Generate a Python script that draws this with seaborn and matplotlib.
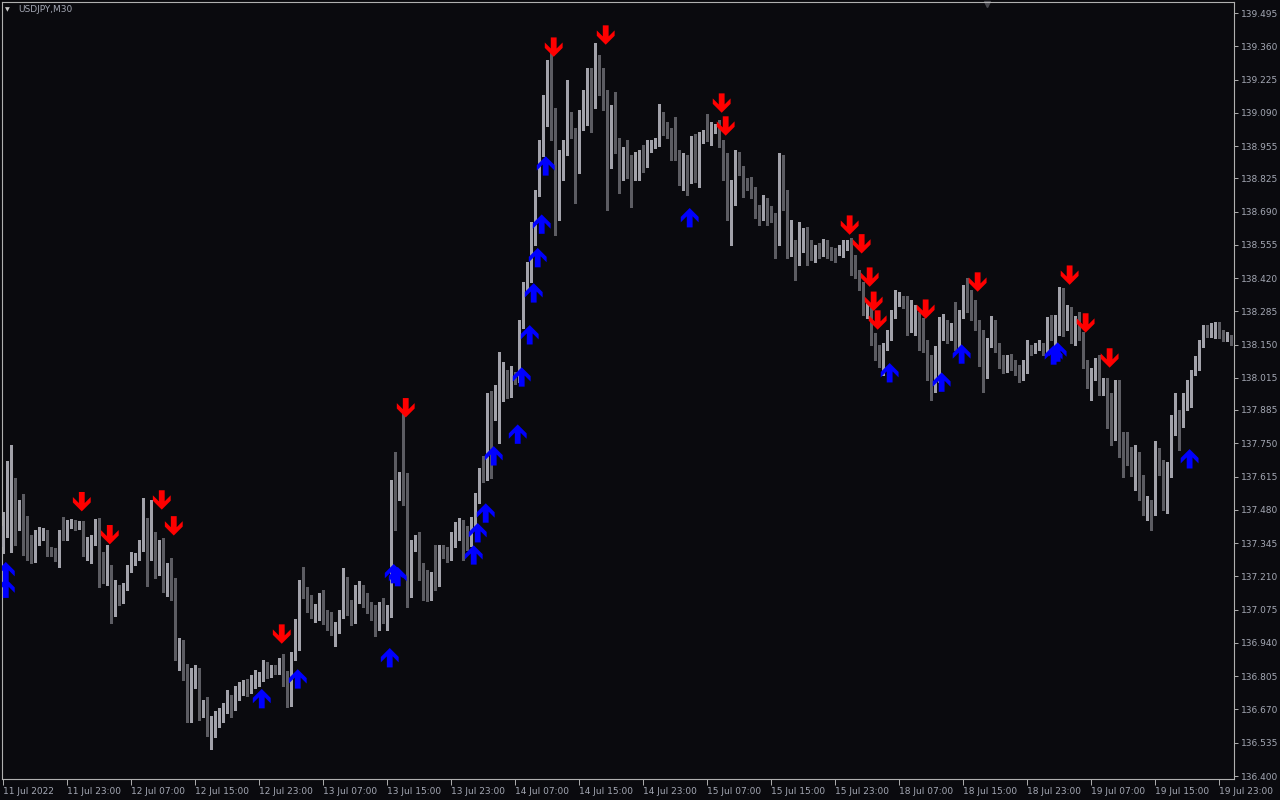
import numpy as np
import matplotlib
matplotlib.use("Agg")
import matplotlib.pyplot as plt
from matplotlib.path import Path
import seaborn as sns

# ---- USDJPY M30 candles (bar 0 = 11 Jul 15:00) ----
opens = [
    137.329, 137.411, 137.585, 137.593, 137.427, 137.479, 137.443, 137.333, 137.281, 137.367,
    137.383, 137.391, 137.313, 137.313, 137.285, 137.383, 137.371, 137.415, 137.419, 137.411,
    137.423, 137.297, 137.333, 137.357, 137.411, 137.301, 137.217, 137.245, 137.062, 137.158,
    137.126, 137.166, 137.237, 137.281, 137.289, 137.325, 137.435, 137.289, 137.371, 137.225,
    137.337, 137.162, 137.209, 137.142, 136.888, 136.904, 136.842, 136.628, 136.770, 136.798,
    136.656, 136.672, 136.576, 136.596, 136.636, 136.640, 136.668, 136.718, 136.676, 136.730,
    136.746, 136.766, 136.750, 136.782, 136.798, 136.798, 136.858, 136.818, 136.838, 136.826,
    136.846, 136.778, 136.726, 136.884, 136.920, 137.174, 137.134, 137.106, 137.070, 137.070,
    137.118, 137.054, 137.042, 136.976, 137.004, 137.050, 137.194, 137.102, 137.028, 137.122,
    137.150, 137.102, 137.082, 137.050, 137.004, 137.074, 137.038, 137.054, 137.581, 137.549,
    137.613, 137.557, 137.138, 137.333, 137.341, 137.221, 137.217, 137.130, 137.209, 137.178,
    137.317, 137.305, 137.301, 137.355, 137.383, 137.407, 137.399, 137.345, 137.427, 137.525,
    137.625, 137.613, 137.910, 137.857, 137.906, 137.934, 138.011, 137.950, 138.015, 138.007,
    138.230, 138.376, 138.416, 138.587, 138.765, 138.923, 139.097, 139.248, 139.069, 138.765,
    138.843, 138.935, 139.057, 139.009, 138.863, 139.065, 139.134, 139.224, 139.126, 139.292,
    139.240, 139.118, 138.923, 139.077, 138.939, 138.831, 138.943, 138.847, 138.839, 138.871,
    138.899, 138.887, 138.947, 138.959, 138.971, 139.069, 139.033, 139.009, 138.971, 138.915,
    138.851, 138.879, 138.847, 138.979, 138.895, 138.983, 139.005, 138.979, 139.020, 139.025,
    138.959, 138.887, 138.669, 138.725, 138.911, 138.863, 138.809, 138.803, 138.777, 138.697,
    138.685, 138.733, 138.685, 138.677, 138.567, 138.789, 138.761, 138.523, 138.555, 138.482,
    138.547, 138.607, 138.547, 138.511, 138.531, 138.523, 138.559, 138.531, 138.527, 138.523,
    138.523, 138.547, 138.563, 138.460, 138.440, 138.392, 138.282, 138.290, 138.174, 138.112,
    138.092, 138.140, 138.182, 138.266, 138.318, 138.326, 138.336, 138.214, 138.282, 138.258,
    138.214, 138.136, 138.084, 137.962, 138.100, 138.202, 138.218, 138.198, 138.206, 138.148,
    138.270, 138.380, 138.294, 138.266, 138.238, 138.084, 138.028, 138.152, 138.234, 138.136,
    138.068, 138.056, 138.076, 138.076, 138.044, 138.020, 138.060, 138.136, 138.124, 138.140,
    138.144, 138.136, 138.242, 138.198, 138.246, 138.376, 138.234, 138.274, 138.170, 138.246,
    138.190, 138.068, 137.990, 138.016, 138.084, 137.978, 137.994, 137.946, 137.795, 137.990,
    137.735, 137.723, 137.715, 137.665, 137.693, 137.581, 137.471, 137.483, 137.467, 137.715,
    137.641, 137.517, 137.645, 137.843, 137.865, 137.831, 137.930, 137.934, 138.036, 138.056,
    138.148, 138.206, 138.190, 138.218, 138.222, 138.194, 138.178, 138.178,
]
highs = [
    137.471, 137.677, 137.743, 137.609, 137.520, 137.545, 137.455, 137.379, 137.399, 137.411,
    137.407, 137.399, 137.329, 137.325, 137.399, 137.451, 137.439, 137.443, 137.439, 137.435,
    137.435, 137.371, 137.379, 137.443, 137.447, 137.309, 137.337, 137.257, 137.194, 137.174,
    137.182, 137.257, 137.309, 137.305, 137.357, 137.529, 137.447, 137.520, 137.391, 137.357,
    137.367, 137.265, 137.285, 137.205, 136.960, 136.952, 136.854, 136.838, 136.850, 136.838,
    136.708, 136.722, 136.644, 136.664, 136.676, 136.696, 136.750, 136.730, 136.766, 136.782,
    136.790, 136.794, 136.810, 136.830, 136.822, 136.870, 136.862, 136.850, 136.850, 136.880,
    136.896, 136.826, 136.904, 137.038, 137.194, 137.249, 137.166, 137.134, 137.098, 137.142,
    137.154, 137.074, 137.066, 137.024, 137.074, 137.245, 137.209, 137.114, 137.174, 137.190,
    137.174, 137.142, 137.106, 137.094, 137.106, 137.122, 137.094, 137.601, 137.715, 137.633,
    137.874, 137.629, 137.357, 137.379, 137.391, 137.265, 137.237, 137.229, 137.337, 137.337,
    137.337, 137.329, 137.391, 137.431, 137.447, 137.439, 137.415, 137.451, 137.549, 137.649,
    137.699, 137.954, 137.962, 137.986, 138.120, 138.080, 138.048, 138.064, 138.040, 138.250,
    138.404, 138.484, 138.647, 138.777, 138.979, 139.164, 139.304, 139.333, 139.109, 138.939,
    138.979, 139.224, 139.093, 139.029, 139.101, 139.184, 139.272, 139.272, 139.373, 139.325,
    139.272, 139.184, 139.122, 139.176, 138.987, 138.951, 138.979, 138.919, 138.931, 138.939,
    138.959, 138.979, 138.979, 138.987, 139.126, 139.093, 139.053, 139.029, 139.073, 138.939,
    138.927, 138.919, 138.995, 139.005, 139.013, 139.020, 139.085, 139.053, 139.045, 139.061,
    138.979, 138.927, 138.819, 138.939, 138.931, 138.875, 138.827, 138.831, 138.789, 138.717,
    138.757, 138.745, 138.713, 138.685, 138.927, 138.919, 138.777, 138.657, 138.575, 138.647,
    138.623, 138.627, 138.575, 138.555, 138.563, 138.579, 138.575, 138.547, 138.543, 138.555,
    138.575, 138.575, 138.583, 138.515, 138.452, 138.404, 138.318, 138.310, 138.198, 138.148,
    138.156, 138.210, 138.290, 138.372, 138.364, 138.348, 138.348, 138.330, 138.310, 138.282,
    138.258, 138.170, 138.108, 138.144, 138.262, 138.274, 138.250, 138.238, 138.322, 138.290,
    138.392, 138.420, 138.372, 138.330, 138.250, 138.210, 138.178, 138.266, 138.250, 138.156,
    138.108, 138.108, 138.112, 138.088, 138.068, 138.088, 138.170, 138.148, 138.156, 138.170,
    138.156, 138.262, 138.270, 138.270, 138.384, 138.380, 138.310, 138.302, 138.266, 138.282,
    138.202, 138.088, 138.056, 138.096, 138.108, 138.016, 138.016, 137.954, 138.007, 138.007,
    137.795, 137.795, 137.735, 137.743, 137.715, 137.621, 137.537, 137.520, 137.759, 137.731,
    137.683, 137.673, 137.865, 137.954, 137.886, 137.954, 138.007, 138.048, 138.104, 138.170,
    138.230, 138.230, 138.238, 138.242, 138.242, 138.210, 138.202, 138.190,
]
lows = [
    137.305, 137.371, 137.309, 137.337, 137.399, 137.297, 137.277, 137.265, 137.269, 137.337,
    137.357, 137.293, 137.293, 137.273, 137.249, 137.357, 137.357, 137.407, 137.399, 137.403,
    137.293, 137.277, 137.265, 137.337, 137.166, 137.182, 137.174, 137.020, 137.050, 137.094,
    137.102, 137.154, 137.229, 137.257, 137.277, 137.313, 137.170, 137.277, 137.205, 137.217,
    137.146, 137.130, 137.114, 136.870, 136.830, 136.790, 136.620, 136.620, 136.758, 136.628,
    136.640, 136.564, 136.510, 136.560, 136.600, 136.620, 136.656, 136.640, 136.668, 136.710,
    136.730, 136.726, 136.738, 136.758, 136.766, 136.786, 136.798, 136.802, 136.814, 136.814,
    136.766, 136.680, 136.684, 136.870, 136.912, 137.122, 137.066, 137.042, 137.024, 137.034,
    137.016, 136.992, 136.972, 136.928, 136.980, 137.042, 137.054, 137.012, 137.020, 137.102,
    137.086, 137.062, 137.034, 136.968, 136.992, 137.020, 136.992, 137.046, 137.399, 137.520,
    137.499, 137.086, 137.126, 137.313, 137.194, 137.114, 137.110, 137.114, 137.154, 137.170,
    137.285, 137.269, 137.277, 137.329, 137.357, 137.277, 137.317, 137.333, 137.415, 137.507,
    137.593, 137.601, 137.609, 137.845, 137.751, 137.922, 137.934, 137.938, 137.990, 137.998,
    138.218, 138.364, 138.404, 138.555, 138.753, 138.915, 139.037, 138.979, 138.595, 138.657,
    138.819, 138.919, 138.989, 138.725, 138.847, 139.020, 139.041, 139.012, 139.109, 139.164,
    139.101, 138.697, 138.867, 138.927, 138.765, 138.819, 138.827, 138.709, 138.819, 138.819,
    138.851, 138.871, 138.931, 138.947, 138.955, 139.001, 138.989, 138.899, 138.899, 138.797,
    138.777, 138.757, 138.805, 138.809, 138.789, 138.967, 138.975, 138.959, 139.009, 138.951,
    138.819, 138.657, 138.555, 138.717, 138.839, 138.749, 138.777, 138.745, 138.665, 138.635,
    138.657, 138.635, 138.647, 138.503, 138.555, 138.697, 138.503, 138.511, 138.412, 138.474,
    138.527, 138.474, 138.495, 138.486, 138.503, 138.511, 138.503, 138.495, 138.486, 138.515,
    138.507, 138.535, 138.432, 138.420, 138.372, 138.270, 138.258, 138.148, 138.088, 138.060,
    138.028, 138.128, 138.170, 138.258, 138.306, 138.298, 138.190, 138.202, 138.190, 138.128,
    138.120, 138.008, 137.926, 137.958, 137.998, 138.170, 138.156, 138.170, 138.128, 138.128,
    138.258, 138.282, 138.250, 138.210, 138.064, 137.958, 138.016, 138.140, 138.120, 138.056,
    138.036, 138.040, 138.048, 138.028, 137.998, 138.008, 138.036, 138.108, 138.116, 138.128,
    138.108, 138.120, 138.170, 138.148, 138.190, 138.186, 138.210, 138.156, 138.148, 138.170,
    138.056, 137.974, 137.926, 138.008, 137.946, 137.946, 137.811, 137.743, 137.763, 137.695,
    137.613, 137.661, 137.617, 137.561, 137.520, 137.459, 137.439, 137.399, 137.459, 137.621,
    137.479, 137.467, 137.613, 137.783, 137.723, 137.815, 137.886, 137.898, 138.028, 138.048,
    138.140, 138.182, 138.182, 138.178, 138.178, 138.166, 138.166, 138.148,
]
closes = [
    137.415, 137.585, 137.589, 137.431, 137.475, 137.439, 137.329, 137.285, 137.367, 137.395,
    137.395, 137.305, 137.305, 137.285, 137.387, 137.371, 137.415, 137.427, 137.411, 137.415,
    137.297, 137.337, 137.363, 137.411, 137.297, 137.217, 137.245, 137.062, 137.162, 137.126,
    137.166, 137.237, 137.281, 137.289, 137.325, 137.435, 137.293, 137.375, 137.225, 137.337,
    137.162, 137.209, 137.134, 136.888, 136.908, 136.838, 136.624, 136.774, 136.798, 136.656,
    136.668, 136.576, 136.596, 136.640, 136.644, 136.668, 136.718, 136.676, 136.730, 136.746,
    136.770, 136.746, 136.782, 136.798, 136.802, 136.858, 136.810, 136.838, 136.826, 136.846,
    136.778, 136.726, 136.888, 136.924, 137.174, 137.134, 137.102, 137.066, 137.074, 137.118,
    137.050, 137.038, 137.000, 137.004, 137.050, 137.194, 137.102, 137.028, 137.126, 137.154,
    137.102, 137.082, 137.046, 137.008, 137.078, 137.038, 137.058, 137.577, 137.549, 137.609,
    137.557, 137.142, 137.333, 137.341, 137.217, 137.213, 137.134, 137.209, 137.178, 137.321,
    137.301, 137.297, 137.363, 137.391, 137.411, 137.395, 137.345, 137.427, 137.525, 137.629,
    137.613, 137.914, 137.857, 137.894, 137.938, 138.011, 137.946, 138.011, 138.002, 138.234,
    138.380, 138.416, 138.591, 138.765, 138.923, 139.097, 139.244, 139.069, 138.765, 138.843,
    138.935, 139.061, 139.009, 138.863, 139.069, 139.134, 139.224, 139.130, 139.292, 139.236,
    139.118, 138.927, 139.077, 138.939, 138.831, 138.943, 138.843, 138.839, 138.875, 138.903,
    138.887, 138.955, 138.963, 138.975, 139.065, 139.033, 139.001, 138.967, 138.915, 138.851,
    138.883, 138.851, 138.975, 138.899, 138.987, 138.995, 138.983, 139.029, 139.029, 138.959,
    138.883, 138.669, 138.729, 138.911, 138.859, 138.803, 138.799, 138.773, 138.681, 138.685,
    138.737, 138.681, 138.673, 138.575, 138.789, 138.761, 138.523, 138.559, 138.482, 138.551,
    138.607, 138.551, 138.511, 138.535, 138.523, 138.563, 138.523, 138.523, 138.519, 138.531,
    138.563, 138.563, 138.460, 138.440, 138.392, 138.286, 138.294, 138.170, 138.104, 138.092,
    138.140, 138.186, 138.270, 138.326, 138.336, 138.314, 138.210, 138.286, 138.290, 138.210,
    138.136, 138.080, 137.962, 138.104, 138.202, 138.218, 138.198, 138.210, 138.152, 138.274,
    138.380, 138.290, 138.262, 138.238, 138.076, 138.028, 138.156, 138.238, 138.132, 138.064,
    138.056, 138.076, 138.068, 138.040, 138.020, 138.064, 138.136, 138.124, 138.144, 138.148,
    138.124, 138.242, 138.202, 138.250, 138.376, 138.234, 138.270, 138.166, 138.246, 138.190,
    138.064, 137.990, 138.020, 138.084, 137.978, 137.994, 137.942, 137.795, 137.990, 137.735,
    137.715, 137.715, 137.665, 137.689, 137.581, 137.467, 137.487, 137.467, 137.715, 137.637,
    137.513, 137.649, 137.843, 137.869, 137.831, 137.930, 137.934, 138.036, 138.060, 138.152,
    138.206, 138.190, 138.222, 138.222, 138.190, 138.178, 138.186, 138.156,
]

# ---- indicator arrows (bar index, price at arrow centre) ----
sell_bars = [19, 26, 39, 42, 69, 100, 137, 150, 179, 180, 211, 214, 216, 217, 218,
             230, 243, 266, 270, 276]
sell_prices = [137.513, 137.379, 137.520, 137.415, 136.976, 137.894, 139.357, 139.406,
               139.130, 139.037, 138.635, 138.559, 138.424, 138.326, 138.250, 138.294,
               138.404, 138.432, 138.238, 138.096]
buy_bars = [0, 0, 64, 73, 96, 97, 98, 117, 118, 120, 122, 128, 129, 131, 132, 133, 134,
            135, 171, 221, 234, 239, 262, 263, 296]
buy_prices = [137.229, 137.162, 136.714, 136.794, 136.880, 137.221, 137.209, 137.297,
              137.387, 137.467, 137.699, 137.787, 138.019, 138.190, 138.360, 138.503,
              138.639, 138.875, 138.665, 138.036, 137.998, 138.112, 138.108, 138.120,
              137.687]

# ---- axis labels ----
price_labels = ["139.495", "139.360", "139.225", "139.090", "138.955", "138.825",
                "138.690", "138.555", "138.420", "138.285", "138.150", "138.015",
                "137.885", "137.750", "137.615", "137.480", "137.345", "137.210",
                "137.075", "136.940", "136.805", "136.670", "136.535", "136.400"]
time_labels = ["11 Jul 2022", "11 Jul 23:00", "12 Jul 07:00", "12 Jul 15:00",
               "12 Jul 23:00", "13 Jul 07:00", "13 Jul 15:00", "13 Jul 23:00",
               "14 Jul 07:00", "14 Jul 15:00", "14 Jul 23:00", "15 Jul 07:00",
               "15 Jul 15:00", "15 Jul 23:00", "18 Jul 07:00", "18 Jul 15:00",
               "18 Jul 23:00", "19 Jul 07:00", "19 Jul 15:00", "19 Jul 23:00"]
label_every = 16  # one time label every 16 bars (8 hours)

BG = "#0a0a0e"
FG = "#a4a8b4"
BULL = "#a2a2aa"
BEAR = "#5c5c62"

sns.set_theme(style="dark", rc={"axes.facecolor": BG, "figure.facecolor": BG,
                                "axes.edgecolor": "#b0b0b0", "axes.grid": False})
plt.rcParams["font.family"] = ["DejaVu Sans"]

fig = plt.figure(figsize=(12.8, 8), dpi=100)
ax = fig.add_axes([2 / 1280, 21 / 800, 1232 / 1280, 777 / 800])

o = np.array(opens)
c = np.array(closes)
hi = np.maximum(np.array(highs), np.maximum(o, c))
lo = np.minimum(np.array(lows), np.minimum(o, c))
x = np.arange(len(c))
cols = np.where(c >= o, BULL, BEAR)

# candles: wick then body
ax.vlines(x, lo, hi, colors=cols, linewidth=0.75, antialiased=False, zorder=2)
body_h = np.maximum(np.abs(c - o), 0.0045)
ax.bar(x, body_h, bottom=np.minimum(o, c), width=0.75, color=cols,
       linewidth=0, antialiased=False, zorder=3)

# arrow markers (thick chevron head + shaft, like the MT4 wingdings arrows)
up_verts = [(0, 0.5), (0.46, 0.04), (0.46, -0.24), (0.15, 0.07), (0.15, -0.5),
            (-0.15, -0.5), (-0.15, 0.07), (-0.46, -0.24), (-0.46, 0.04), (0, 0.5)]
up_arrow = Path(up_verts, closed=True)
down_arrow = Path([(vx, -vy) for vx, vy in up_verts], closed=True)

sns.scatterplot(x=np.array(sell_bars) + 0.6, y=sell_prices, marker=down_arrow, s=195,
                color="#ff0000", edgecolor="none", linewidth=0, ax=ax, zorder=5)
sns.scatterplot(x=np.array(buy_bars) + 0.6, y=buy_prices, marker=up_arrow, s=195,
                color="#0000ff", edgecolor="none", linewidth=0, ax=ax, zorder=5)

ax.set_xlim(-0.35, 307.7)
ax.set_ylim(136.388, 139.540)

# right price scale
ax.yaxis.tick_right()
ax.set_yticks([float(v) for v in price_labels])
ax.set_yticklabels(price_labels)
ax.tick_params(axis="y", colors="#b0b0b0", labelcolor=FG, labelsize=6.5,
               length=3, width=0.7, direction="out", pad=2, right=True, left=False)

# time scale
ax.set_xticks(np.arange(len(time_labels)) * label_every)
ax.set_xticklabels(time_labels, ha="left")
ax.tick_params(axis="x", colors="#b0b0b0", labelcolor=FG, labelsize=6.5,
               length=4, width=0.7, direction="out", pad=1.5, bottom=True)

for sp in ax.spines.values():
    sp.set_color("#b0b0b0")
    sp.set_linewidth(0.8)
ax.set_xlabel("")
ax.set_ylabel("")

# symbol caption and chart-shift marker
fig.text(18 / 1280, 1 - 10 / 800, "USDJPY,M30", color=FG, fontsize=6.5, va="center")
fig.text(5 / 1280, 1 - 10 / 800, "\u25BC", color="#c8c8c8", fontsize=4.5, va="center")
ax.plot([(987 - 2) / 1232], [0.997], marker="v", color="#4a4a50", ms=5,
        transform=ax.transAxes, clip_on=False)

fig.savefig("out.png", dpi=100, facecolor=BG)
